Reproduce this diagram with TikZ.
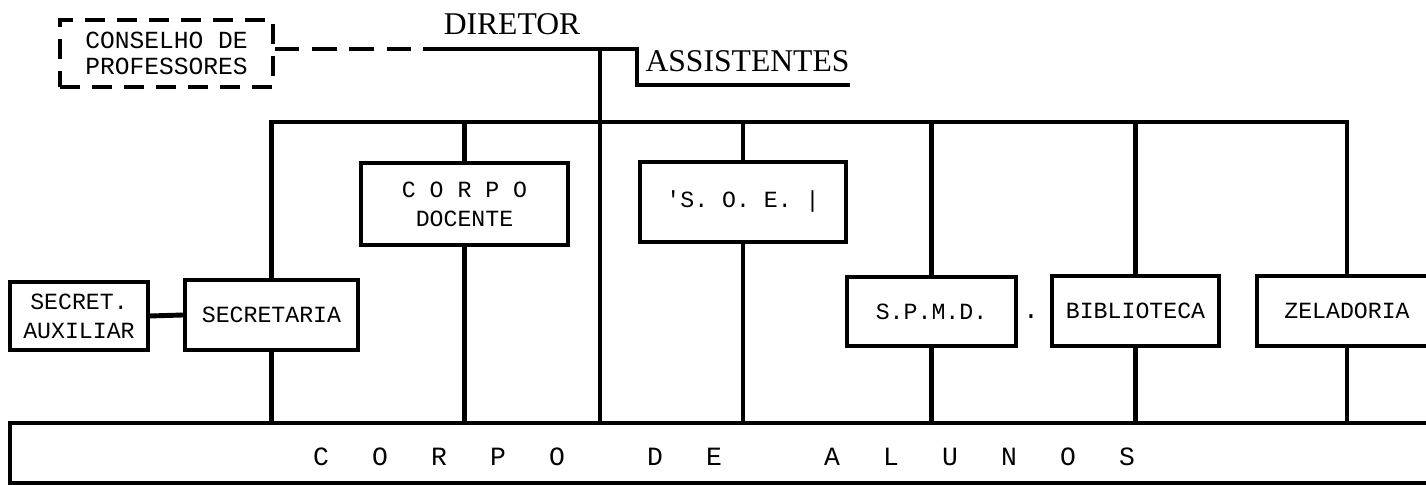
\documentclass[tikz,border=0pt]{standalone}
\usepackage{fontspec}
\setmainfont{Liberation Serif}
\setmonofont{Liberation Mono}
\begin{document}
\begin{tikzpicture}[
  unit/.style={rectangle,draw=black,line width=1pt,inner sep=0pt,align=center,font=\ttfamily\fontsize{6.6}{8.2}\selectfont},
  council/.style={unit,dash pattern=on 5.7pt off 3.4pt,font=\ttfamily\fontsize{7}{7.2}\selectfont},
  head/.style={inner sep=0pt,font=\fontsize{9}{10}\selectfont},
  bar/.style={line width=1.4pt},
  letter/.style={inner sep=0pt,font=\ttfamily\fontsize{7.5}{8}\selectfont}]
\useasboundingbox (0,0) rectangle (14.26,-4.86);
\clip (0,0) rectangle (14.26,-4.86);
% direction
\node[council,minimum width=2.13cm,minimum height=0.67cm] (conselho) at (1.665,-0.535) {CONSELHO DE\\PROFESSORES};
\node[head] (diretor) at (5.12,-0.245) {DIRETOR};
\node[head] (asst) at (7.475,-0.615) {ASSISTENTES};
\coordinate (dirL) at (4.23,-0.49);
\coordinate (dirM) at (6.00,-0.49);
\coordinate (dirR) at (6.37,-0.49);
\coordinate (asstR) at (8.50,-0.85);
\coordinate (bar) at (0,-1.22);
\draw[bar,dash pattern=on 7pt off 3.6pt] (conselho.east |- dirL) -- (dirL);
\draw[bar] (dirL) -- (dirR) |- (asstR);
% units
\node[unit,minimum width=1.38cm,minimum height=0.68cm] (aux) at (0.79,-3.16) {SECRET.\\AUXILIAR};
\node[unit,minimum width=1.73cm,minimum height=0.70cm] (secretaria) at (2.715,-3.15) {SECRETARIA};
\node[unit,minimum width=2.07cm,minimum height=0.82cm] (docente) at (4.645,-2.04) {C O R P O\\DOCENTE};
\node[unit,minimum width=2.06cm,minimum height=0.80cm] (soe) at (7.43,-2.02) {'S. O. E. |};
\node[unit,minimum width=1.69cm,minimum height=0.69cm] (spmd) at (9.315,-3.115) {S.P.M.D.};
\node[unit,minimum width=1.67cm,minimum height=0.70cm] (biblio) at (11.355,-3.11) {BIBLIOTECA};
\node[unit,minimum width=1.80cm,minimum height=0.70cm] (zeladoria) at (13.47,-3.11) {ZELADORIA};
\node[letter] (dot) at (10.31,-3.17) {.};
\node[unit,minimum width=14.40cm,minimum height=0.60cm] (alunos) at (7.30,-4.53) {};
\foreach \ch/\x [count=\i] in {C/3.21,O/3.80,R/4.39,P/4.98,O/5.57,D/6.55,E/7.14,A/8.32,L/8.91,U/9.50,N/10.09,O/10.68,S/11.27}
  \node[letter] (l\i) at (\x,-4.57) {\ch};
% connectors
\draw[bar] (secretaria.north) -- (secretaria.north |- bar) -- (zeladoria.north |- bar) -- (zeladoria.north);
\foreach \n in {docente,soe,spmd,biblio}
  \draw[bar] (\n.north) -- (\n.north |- bar);
\foreach \n in {secretaria,docente,soe,spmd,biblio,zeladoria}
  \draw[bar] (\n.south) -- (\n.south |- alunos.north);
\draw[bar] (dirM) -- (dirM |- alunos.north);
\draw[bar] (aux.east) -- (secretaria.west);
\end{tikzpicture}
\end{document}
